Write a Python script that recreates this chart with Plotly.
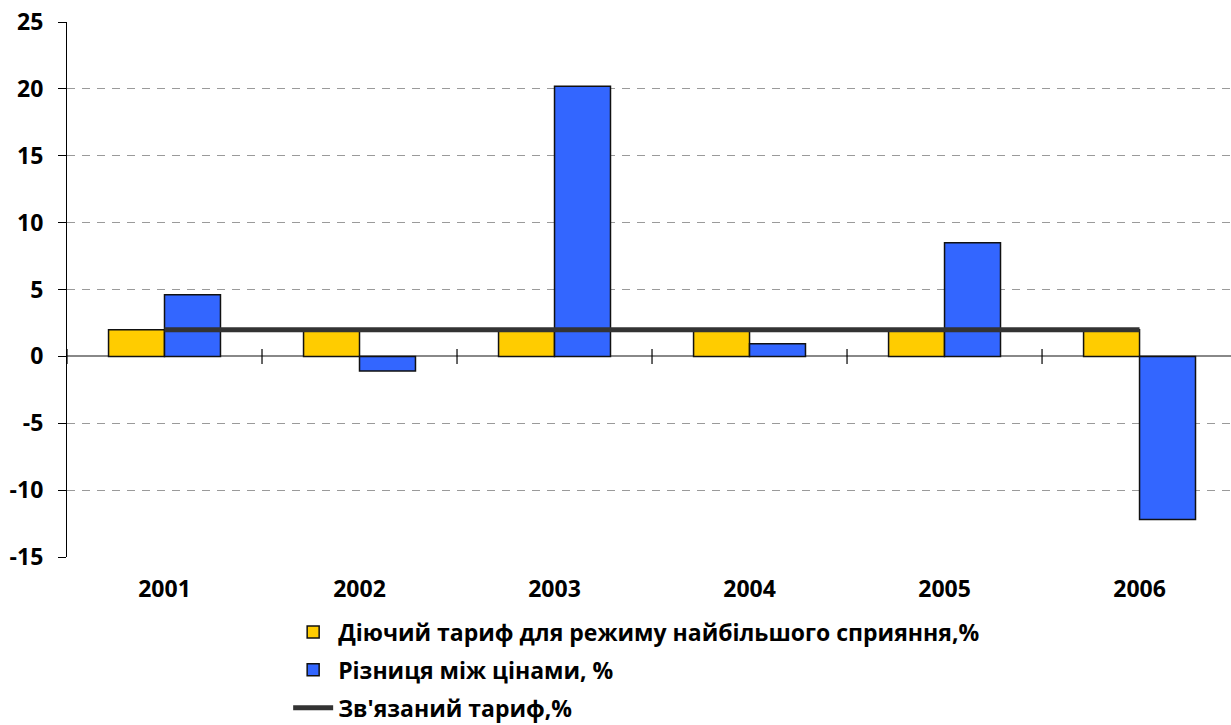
import plotly.graph_objects as go

years = ["2001", "2002", "2003", "2004", "2005", "2006"]
mfn_tariff = [2, 2, 2, 2, 2, 2]
price_diff = [4.6, -1.1, 20.2, 0.95, 8.5, -12.2]
bound_tariff = [2, 2, 2, 2, 2, 2]
y_ticks = [25, 20, 15, 10, 5, 0, -5, -10, -15]

names = ["Діючий тариф для режиму найбільшого сприяння,%",
         "Різниця між цінами, %",
         "Зв'язаний тариф,%"]

FONT = "Open Sans"
FS = 23

def b(s):
    return "<b>" + s + "</b>"

fig = go.Figure()
fig.add_trace(go.Bar(x=years, y=mfn_tariff, name=b(names[0]), legendgroup="a",
                     marker=dict(color="#FFCC00", line=dict(color="#111111", width=1.5))))
fig.add_trace(go.Bar(x=years, y=price_diff, name=b(names[1]), legendgroup="b",
                     marker=dict(color="#3366FF", line=dict(color="#111111", width=1.5))))
fig.add_trace(go.Scatter(x=years, y=bound_tariff, name=b(names[2]), legendgroup="c",
                         mode="lines", line=dict(color="#333333", width=5)))

# small category-separator ticks crossing the zero line
shapes = []
for i in range(len(years)):
    shapes.append(dict(type="line", xref="x", yref="y", x0=i - 0.5, x1=i - 0.5,
                       y0=-0.57, y1=0.55, line=dict(color="black", width=1.2)))

fig.update_layout(
    width=1231, height=725,
    margin=dict(l=67, r=0, t=22, b=168, autoexpand=False),
    paper_bgcolor="white", plot_bgcolor="white",
    barmode="group", bargap=0.426, bargroupgap=0,
    font=dict(family=FONT, size=FS, color="black"),
    showlegend=True,
    legend=dict(orientation="v", x=0.19, xanchor="left", y=-0.1, yanchor="top",
                traceorder="grouped", tracegroupgap=5,
                font=dict(family=FONT, size=FS, color="black"),
                itemwidth=40, bgcolor="rgba(0,0,0,0)"),
    shapes=shapes,
    xaxis=dict(type="category", range=[-0.5, 5.469], showline=False, showgrid=False,
               ticks="", ticklabelstandoff=16, zeroline=False,
               tickvals=years, ticktext=[b(y) for y in years],
               tickfont=dict(family=FONT, size=FS)),
    yaxis=dict(range=[-15, 25], tickvals=y_ticks, ticktext=[b(str(v)) for v in y_ticks],
               showline=True, linecolor="black",
               linewidth=1.2, ticks="outside", ticklen=8, tickcolor="black",
               showgrid=True, gridcolor="#9a9a9a", griddash="8px,7px", gridwidth=1,
               zeroline=True, zerolinecolor="#888888", zerolinewidth=1.5,
               ticklabelstandoff=10,
               tickfont=dict(family=FONT, size=FS)),
)

fig.write_html("out.html")
